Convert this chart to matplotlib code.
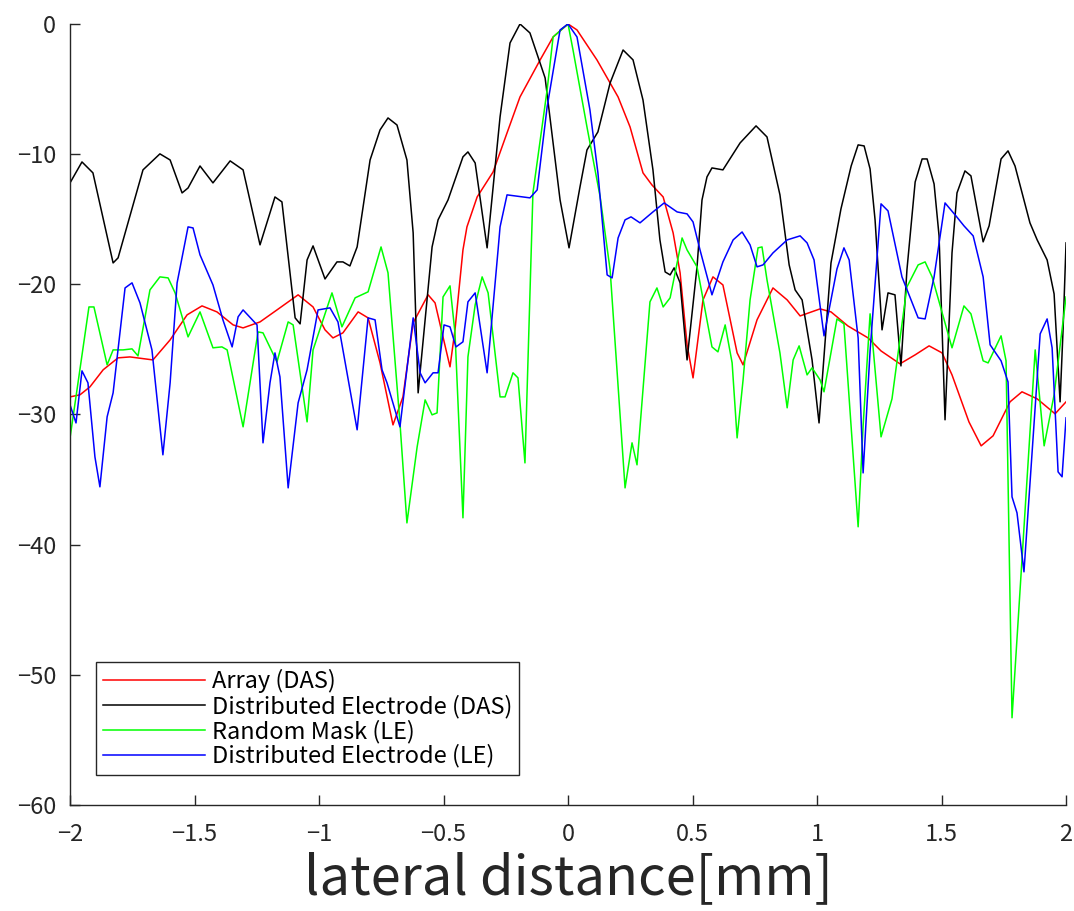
import numpy as np
import matplotlib
matplotlib.use("Agg")
import matplotlib.pyplot as plt

plt.rcParams['font.family'] = ['Noto Sans CJK JP', 'DejaVu Sans']

# lateral beam profiles [dB] vs lateral position [mm]
x_array = [-2.0, -1.960, -1.920, -1.867, -1.807, -1.759, -1.667, -1.598, -1.530, -1.470,
           -1.410, -1.345, -1.305, -1.237, -1.169, -1.084, -1.024, -0.976, -0.944, -0.904,
           -0.843, -0.803, -0.755, -0.703, -0.663, -0.622, -0.562, -0.534, -0.506, -0.474,
           -0.454, -0.422, -0.406, -0.365, -0.301, -0.245, -0.193, -0.112, -0.060, 0.0,
           0.036, 0.116, 0.201, 0.249, 0.301, 0.337, 0.382, 0.422, 0.450, 0.478,
           0.502, 0.542, 0.582, 0.622, 0.679, 0.703, 0.759, 0.823, 0.880, 0.932,
           1.012, 1.056, 1.124, 1.205, 1.257, 1.333, 1.394, 1.450, 1.502, 1.542,
           1.610, 1.659, 1.707, 1.775, 1.823, 1.884, 1.956, 2.0]
y_array = [-28.65, -28.49, -27.88, -26.57, -25.65, -25.58, -25.81, -24.27, -22.35, -21.66,
           -22.12, -23.12, -23.35, -22.89, -21.97, -20.81, -21.74, -23.50, -24.12, -23.73,
           -22.12, -22.58, -26.04, -30.80, -28.65, -22.96, -20.81, -21.43, -23.73, -26.34,
           -23.50, -17.36, -15.59, -13.29, -11.37, -8.37, -5.61, -2.76, -1.0, 0.0,
           -0.46, -2.76, -5.61, -7.91, -11.44, -12.37, -13.29, -16.05, -19.12, -24.65,
           -27.19, -21.20, -19.43, -20.05, -25.27, -26.19, -22.73, -20.28, -21.20, -22.43,
           -21.89, -22.12, -23.20, -24.12, -25.12, -26.11, -25.42, -24.73, -25.27, -26.96,
           -30.57, -32.41, -31.64, -29.03, -28.26, -28.80, -29.95, -29.03]

x_de_das = [-2.0, -1.952, -1.908, -1.827, -1.807, -1.707, -1.639, -1.598, -1.550, -1.526,
            -1.478, -1.426, -1.357, -1.305, -1.237, -1.177, -1.149, -1.096, -1.076, -1.048,
            -1.024, -0.976, -0.928, -0.904, -0.876, -0.847, -0.795, -0.755, -0.723, -0.687,
            -0.647, -0.622, -0.602, -0.546, -0.522, -0.482, -0.422, -0.402, -0.373, -0.325,
            -0.273, -0.233, -0.193, -0.153, -0.092, -0.032, 0.004, 0.048, 0.076, 0.120,
            0.169, 0.221, 0.261, 0.301, 0.341, 0.369, 0.390, 0.410, 0.426, 0.450,
            0.478, 0.518, 0.538, 0.558, 0.578, 0.622, 0.691, 0.755, 0.799, 0.851,
            0.888, 0.912, 0.940, 0.980, 1.008, 1.056, 1.096, 1.137, 1.165, 1.189,
            1.213, 1.233, 1.261, 1.285, 1.313, 1.337, 1.361, 1.394, 1.422, 1.442,
            1.470, 1.490, 1.514, 1.542, 1.562, 1.594, 1.618, 1.667, 1.691, 1.739,
            1.767, 1.795, 1.855, 1.884, 1.924, 1.952, 1.976, 1.988, 2.0]
y_de_das = [-12.21, -10.60, -11.44, -18.36, -17.97, -11.21, -9.98, -10.45, -12.98, -12.60,
            -10.91, -12.21, -10.52, -11.21, -16.97, -13.29, -13.67, -22.58, -23.04, -18.13,
            -17.05, -19.59, -18.28, -18.28, -18.59, -17.13, -10.45, -8.14, -7.22, -7.76,
            -10.45, -16.05, -28.34, -17.13, -15.05, -13.52, -10.21, -9.83, -10.68, -17.20,
            -7.14, -1.46, 0.0, -0.69, -4.15, -13.52, -17.20, -12.52, -9.68, -8.29,
            -4.53, -2.0, -2.76, -5.84, -11.21, -16.59, -19.05, -19.28, -18.74, -19.89,
            -25.81, -18.66, -13.52, -11.75, -11.06, -11.21, -9.14, -7.83, -8.68, -13.13,
            -18.51, -20.43, -21.20, -25.81, -30.65, -18.36, -14.21, -10.91, -9.29, -9.37,
            -11.14, -15.05, -23.50, -20.66, -20.81, -26.27, -18.89, -12.14, -10.37, -10.37,
            -12.29, -16.28, -30.41, -17.59, -12.98, -11.29, -11.67, -16.74, -15.51, -10.37,
            -9.75, -10.91, -15.28, -16.59, -18.13, -20.74, -29.03, -23.50, -16.82]

x_mask = [-2.0, -1.968, -1.924, -1.904, -1.851, -1.827, -1.787, -1.751, -1.727, -1.679,
          -1.639, -1.606, -1.578, -1.526, -1.478, -1.426, -1.390, -1.369, -1.305, -1.245,
          -1.225, -1.169, -1.124, -1.104, -1.048, -1.024, -0.948, -0.908, -0.855, -0.803,
          -0.751, -0.723, -0.675, -0.647, -0.606, -0.574, -0.546, -0.526, -0.502, -0.474,
          -0.454, -0.422, -0.402, -0.373, -0.345, -0.321, -0.273, -0.253, -0.221, -0.201,
          -0.173, -0.141, -0.084, -0.060, 0.0, 0.020, 0.076, 0.129, 0.169, 0.229,
          0.257, 0.277, 0.329, 0.357, 0.382, 0.410, 0.458, 0.478, 0.518, 0.578,
          0.602, 0.631, 0.659, 0.679, 0.703, 0.731, 0.763, 0.779, 0.799, 0.851,
          0.880, 0.904, 0.928, 0.960, 0.980, 1.012, 1.028, 1.080, 1.108, 1.165,
          1.185, 1.213, 1.257, 1.301, 1.361, 1.406, 1.434, 1.462, 1.542, 1.590,
          1.618, 1.667, 1.687, 1.739, 1.759, 1.783, 1.876, 1.912, 1.952, 2.0]
y_mask = [-31.80, -27.57, -21.74, -21.74, -26.19, -25.04, -25.04, -24.96, -25.50, -20.43,
          -19.43, -19.51, -20.66, -24.04, -22.12, -24.88, -24.81, -25.04, -30.95, -23.66,
          -23.73, -25.96, -22.89, -23.12, -30.57, -25.04, -20.66, -23.27, -21.04, -20.58,
          -17.13, -19.12, -30.65, -38.33, -32.49, -28.88, -30.03, -29.88, -20.97, -20.12,
          -23.73, -37.94, -25.58, -21.58, -19.43, -20.66, -28.65, -28.65, -26.80, -27.19,
          -33.72, -12.98, -5.07, -1.0, 0.0, -2.0, -7.91, -13.29, -18.89, -35.64,
          -32.18, -33.87, -21.35, -20.28, -21.74, -21.04, -16.44, -17.36, -18.66, -24.81,
          -25.19, -23.12, -26.04, -31.80, -27.34, -21.20, -17.20, -17.13, -19.66, -25.27,
          -29.49, -25.81, -24.73, -26.96, -26.42, -27.34, -28.26, -22.66, -23.04, -38.63,
          -30.88, -22.27, -31.72, -28.80, -20.20, -18.51, -18.28, -19.43, -24.88, -21.66,
          -22.27, -25.88, -26.04, -23.96, -25.88, -53.30, -25.04, -32.41, -28.49, -20.97]

x_de_le = [-2.0, -1.976, -1.952, -1.928, -1.900, -1.880, -1.851, -1.827, -1.779, -1.751,
           -1.719, -1.671, -1.627, -1.598, -1.570, -1.526, -1.506, -1.478, -1.426, -1.386,
           -1.349, -1.325, -1.305, -1.249, -1.225, -1.197, -1.177, -1.157, -1.124, -1.084,
           -1.048, -1.004, -0.956, -0.924, -0.847, -0.803, -0.775, -0.747, -0.727, -0.675,
           -0.622, -0.594, -0.574, -0.542, -0.522, -0.498, -0.474, -0.450, -0.422, -0.402,
           -0.373, -0.325, -0.281, -0.273, -0.245, -0.153, -0.124, -0.084, -0.032, 0.0,
           0.036, 0.088, 0.120, 0.157, 0.177, 0.201, 0.229, 0.253, 0.289, 0.341,
           0.386, 0.438, 0.478, 0.502, 0.530, 0.578, 0.622, 0.663, 0.699, 0.731,
           0.759, 0.783, 0.823, 0.880, 0.932, 0.960, 0.988, 1.028, 1.080, 1.108,
           1.129, 1.165, 1.185, 1.213, 1.257, 1.285, 1.341, 1.406, 1.434, 1.470,
           1.514, 1.558, 1.590, 1.627, 1.667, 1.695, 1.739, 1.767, 1.783, 1.803,
           1.831, 1.896, 1.924, 1.944, 1.968, 1.984, 2.0]
y_de_le = [-29.26, -30.65, -26.65, -27.57, -33.26, -35.56, -30.18, -28.34, -20.28, -19.89,
           -21.43, -25.04, -33.10, -27.57, -19.89, -15.59, -15.67, -17.74, -20.05, -22.73,
           -24.81, -22.50, -21.97, -23.12, -32.18, -27.57, -25.27, -27.11, -35.64, -29.11,
           -26.57, -21.97, -21.81, -22.89, -31.18, -22.58, -22.73, -26.57, -27.57, -30.95,
           -22.58, -26.80, -27.57, -26.80, -26.80, -23.12, -23.27, -24.81, -24.42, -21.35,
           -20.66, -26.80, -17.36, -15.59, -13.13, -13.36, -12.75, -6.37, -0.46, 0.0,
           -1.0, -6.61, -11.44, -19.28, -19.51, -16.44, -15.05, -14.82, -15.28, -14.44,
           -13.75, -14.44, -14.59, -15.21, -17.36, -20.81, -18.28, -16.59, -15.98, -16.97,
           -18.66, -18.51, -17.59, -16.59, -16.28, -16.82, -18.13, -23.96, -18.82, -17.20,
           -18.13, -24.12, -34.49, -25.12, -13.82, -14.36, -19.43, -22.58, -22.66, -19.43,
           -13.75, -14.75, -15.51, -16.28, -19.43, -24.65, -25.88, -27.50, -36.33, -37.56,
           -42.09, -23.81, -22.66, -24.88, -34.41, -34.79, -30.26]

labels = ['Array (DAS)', 'Distributed Electrode (DAS)', 'Random Mask (LE)', 'Distributed Electrode (LE)']
xticks = [-2, -1.5, -1, -0.5, 0, 0.5, 1, 1.5, 2]
yticks = [-60, -50, -40, -30, -20, -10, 0]

fig = plt.figure(figsize=(10.74, 9.11), dpi=100)
ax = fig.add_axes([0.0652, 0.1164, 0.9274, 0.8573])

ax.plot(x_array, y_array, color='#ff0000', lw=1.1, label=labels[0])
ax.plot(x_de_das, y_de_das, color='#000000', lw=1.1, label=labels[1])
ax.plot(x_mask, y_mask, color='#00ff00', lw=1.1, label=labels[2])
ax.plot(x_de_le, y_de_le, color='#0000ff', lw=1.1, label=labels[3])

ax.set_xlim(-2, 2)
ax.set_ylim(-60, 0)
ax.set_xticks(xticks)
ax.set_xticklabels(['\u22122', '\u22121.5', '\u22121', '\u22120.5', '0', '0.5', '1', '1.5', '2'])
ax.set_yticks(yticks)
ax.set_yticklabels(['\u221260', '\u221250', '\u221240', '\u221230', '\u221220', '\u221210', '0'])

for side in ('top', 'right'):
    ax.spines[side].set_visible(False)
for side in ('left', 'bottom'):
    ax.spines[side].set_color('#262626')
    ax.spines[side].set_linewidth(1.0)
ax.tick_params(direction='in', length=7.5, width=1.0, colors='#262626', labelsize=17)
ax.tick_params(axis='x', pad=13)
ax.tick_params(axis='y', pad=10)

ax.set_xlabel('lateral distance[mm]', fontsize=39, color='#262626', labelpad=4)

leg = ax.legend(loc='lower left', bbox_to_anchor=(96 / 1074, 1 - 775 / 911),
                bbox_transform=fig.transFigure, borderaxespad=0,
                fontsize=17, handlelength=4.3, handletextpad=0.3,
                labelspacing=0.05, fancybox=False, framealpha=1,
                edgecolor='#262626', borderpad=0.3)
leg.get_frame().set_linewidth(1.0)

fig.savefig('out.png', dpi=100)
